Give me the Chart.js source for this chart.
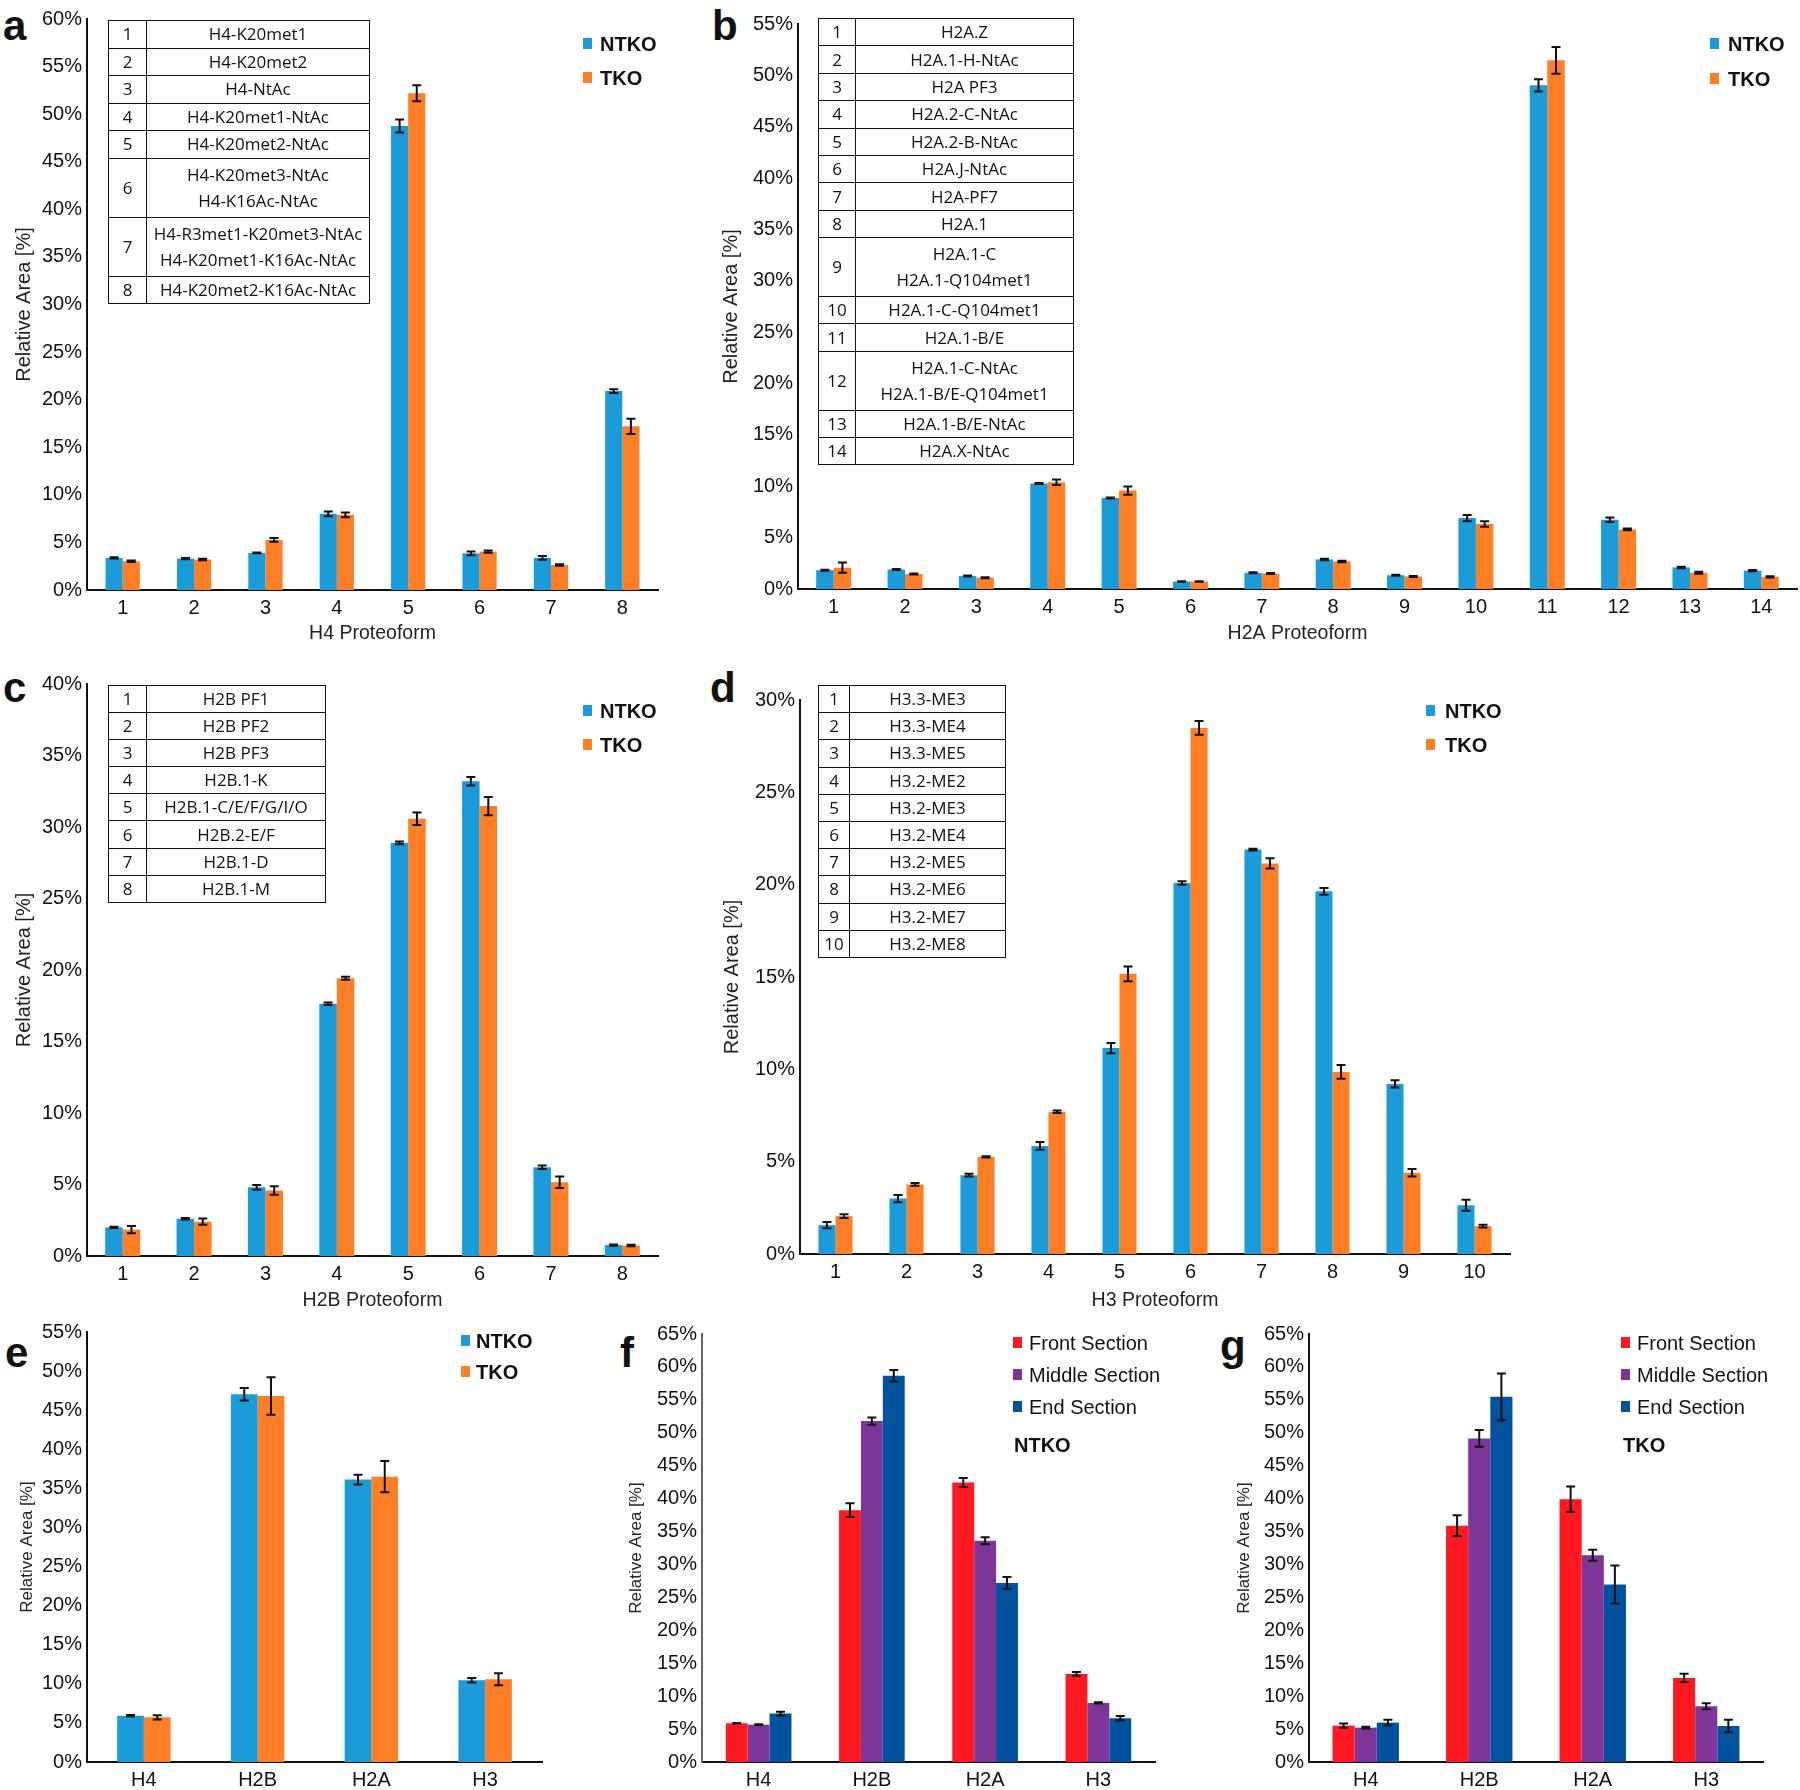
<!DOCTYPE html>
<html>
<head>
<meta charset="utf-8">
<script src="https://cdn.jsdelivr.net/npm/chart.js@4.4.1/dist/chart.umd.min.js"></script>
<style>
  body { margin: 0; width: 1800px; height: 1790px; background: #fff; position: relative; overflow: hidden; font-family: 'Liberation Sans', Arial, sans-serif; color: #111; }
  canvas { position: absolute; }
  .letter { position: absolute; font-weight: bold; font-size: 42px; line-height: 1; }
  .leg { position: absolute; font-size: 20px; line-height: 20px; white-space: nowrap; }
  .leg i { position: absolute; width: 9px; height: 11px; top: 4px; }
  .leg.b { font-weight: bold; }
  table.pf { position: absolute; border-collapse: collapse; font-family: 'Open Sans', sans-serif; font-size: 17px; color: #111; }
  table.pf td { border: 1.8px solid #111; padding: 0; text-align: center; line-height: 26px; white-space: nowrap; }
</style>
</head>
<body>
<!-- panel letters -->
<div class="letter" style="left:3px;top:5px">a</div>
<div class="letter" style="left:712px;top:5px">b</div>
<div class="letter" style="left:3px;top:667px">c</div>
<div class="letter" style="left:710px;top:667px">d</div>
<div class="letter" style="left:5px;top:1332px">e</div>
<div class="letter" style="left:620px;top:1332px">f</div>
<div class="letter" style="left:1220px;top:1325px">g</div>

<canvas id="chartA" width="690" height="650" style="left:0;top:0"></canvas>
<canvas id="chartB" width="1100" height="650" style="left:700px;top:0"></canvas>
<canvas id="chartC" width="690" height="670" style="left:0;top:650px"></canvas>
<canvas id="chartD" width="1100" height="670" style="left:700px;top:650px"></canvas>
<canvas id="chartE" width="600" height="480" style="left:0;top:1310px"></canvas>
<canvas id="chartF" width="600" height="480" style="left:600px;top:1310px"></canvas>
<canvas id="chartG" width="600" height="480" style="left:1200px;top:1310px"></canvas>

<!-- proteoform tables -->
<table class="pf" id="tabA" style="left:108px;top:20px;width:262px"></table>
<table class="pf" id="tabB" style="left:818px;top:18px;width:256px"></table>
<table class="pf" id="tabC" style="left:108px;top:685px;width:218px"></table>
<table class="pf" id="tabD" style="left:818px;top:685px;width:188px"></table>

<!-- legends -->
<div class="leg b" style="left:583px;top:34px"><i style="left:0;background:#1b9bd7"></i><span style="margin-left:17px">NTKO</span></div>
<div class="leg b" style="left:583px;top:68px"><i style="left:0;background:#ff7f27"></i><span style="margin-left:17px">TKO</span></div>
<div class="leg b" style="left:1710px;top:34px"><i style="left:0;background:#1b9bd7"></i><span style="margin-left:18px">NTKO</span></div>
<div class="leg b" style="left:1710px;top:69px"><i style="left:0;background:#ff7f27"></i><span style="margin-left:18px">TKO</span></div>
<div class="leg b" style="left:583px;top:701px"><i style="left:0;background:#1b9bd7"></i><span style="margin-left:17px">NTKO</span></div>
<div class="leg b" style="left:583px;top:735px"><i style="left:0;background:#ff7f27"></i><span style="margin-left:17px">TKO</span></div>
<div class="leg b" style="left:1426px;top:701px"><i style="left:0;background:#1b9bd7"></i><span style="margin-left:19px">NTKO</span></div>
<div class="leg b" style="left:1426px;top:735px"><i style="left:0;background:#ff7f27"></i><span style="margin-left:19px">TKO</span></div>
<div class="leg b" style="left:461px;top:1331px"><i style="left:0;background:#1b9bd7"></i><span style="margin-left:15px">NTKO</span></div>
<div class="leg b" style="left:461px;top:1362px"><i style="left:0;background:#ff7f27"></i><span style="margin-left:15px">TKO</span></div>
<div class="leg" style="left:1013px;top:1333px"><i style="left:0;background:#ff1a22"></i><span style="margin-left:16px">Front Section</span></div>
<div class="leg" style="left:1013px;top:1365px"><i style="left:0;background:#7d3597"></i><span style="margin-left:16px">Middle Section</span></div>
<div class="leg" style="left:1013px;top:1397px"><i style="left:0;background:#00539c"></i><span style="margin-left:16px">End Section</span></div>
<div class="leg b" style="left:1014px;top:1435px">NTKO</div>
<div class="leg" style="left:1621px;top:1333px"><i style="left:0;background:#ff1a22"></i><span style="margin-left:16px">Front Section</span></div>
<div class="leg" style="left:1621px;top:1365px"><i style="left:0;background:#7d3597"></i><span style="margin-left:16px">Middle Section</span></div>
<div class="leg" style="left:1621px;top:1397px"><i style="left:0;background:#00539c"></i><span style="margin-left:16px">End Section</span></div>
<div class="leg b" style="left:1623px;top:1435px">TKO</div>

<script>
// ---- data (relative area in %) ----
const h4Labels = ['1', '2', '3', '4', '5', '6', '7', '8'];
const h4Ntko = [3.37, 3.3, 3.9, 8.0, 48.75, 3.85, 3.37, 20.9];
const h4NtkoErr = [0.07, 0.07, 0.04, 0.25, 0.68, 0.2, 0.2, 0.2];
const h4Tko = [3.02, 3.2, 5.26, 7.9, 52.2, 4.03, 2.63, 17.2];
const h4TkoErr = [0.07, 0.08, 0.2, 0.25, 0.85, 0.12, 0.07, 0.8];
const h4Names = [['H4-K20met1'], ['H4-K20met2'], ['H4-NtAc'], ['H4-K20met1-NtAc'], ['H4-K20met2-NtAc'],
  ['H4-K20met3-NtAc', 'H4-K16Ac-NtAc'], ['H4-R3met1-K20met3-NtAc', 'H4-K20met1-K16Ac-NtAc'], ['H4-K20met2-K16Ac-NtAc']];

const h2aLabels = ['1', '2', '3', '4', '5', '6', '7', '8', '9', '10', '11', '12', '13', '14'];
const h2aNtko = [1.83, 1.9, 1.26, 10.27, 8.85, 0.73, 1.58, 2.88, 1.34, 6.9, 49.03, 6.74, 2.1, 1.79];
const h2aNtkoErr = [0.05, 0.05, 0.05, 0.05, 0.05, 0.03, 0.05, 0.07, 0.05, 0.3, 0.6, 0.22, 0.07, 0.05];
const h2aTko = [2.07, 1.46, 1.1, 10.39, 9.58, 0.73, 1.5, 2.68, 1.22, 6.33, 51.46, 5.8, 1.58, 1.18];
const h2aTkoErr = [0.5, 0.05, 0.05, 0.26, 0.4, 0.03, 0.05, 0.07, 0.05, 0.26, 1.3, 0.08, 0.1, 0.05];
const h2aNames = [['H2A.Z'], ['H2A.1-H-NtAc'], ['H2A PF3'], ['H2A.2-C-NtAc'], ['H2A.2-B-NtAc'], ['H2A.J-NtAc'],
  ['H2A-PF7'], ['H2A.1'], ['H2A.1-C', 'H2A.1-Q104met1'], ['H2A.1-C-Q104met1'], ['H2A.1-B/E'],
  ['H2A.1-C-NtAc', 'H2A.1-B/E-Q104met1'], ['H2A.1-B/E-NtAc'], ['H2A.X-NtAc']];

const h2bLabels = ['1', '2', '3', '4', '5', '6', '7', '8'];
const h2bNtko = [2.0, 2.6, 4.8, 17.64, 28.89, 33.2, 6.21, 0.76];
const h2bNtkoErr = [0.05, 0.05, 0.17, 0.08, 0.1, 0.3, 0.12, 0.04];
const h2bTko = [1.84, 2.4, 4.58, 19.42, 30.58, 31.46, 5.16, 0.73];
const h2bTkoErr = [0.25, 0.22, 0.3, 0.1, 0.44, 0.63, 0.4, 0.05];
const h2bNames = [['H2B PF1'], ['H2B PF2'], ['H2B PF3'], ['H2B.1-K'], ['H2B.1-C/E/F/G/I/O'], ['H2B.2-E/F'], ['H2B.1-D'], ['H2B.1-M']];

const h3Labels = ['1', '2', '3', '4', '5', '6', '7', '8', '9', '10'];
const h3Ntko = [1.56, 3.0, 4.27, 5.85, 11.15, 20.09, 21.9, 19.64, 9.21, 2.64];
const h3NtkoErr = [0.17, 0.2, 0.08, 0.21, 0.28, 0.1, 0.05, 0.18, 0.2, 0.3];
const h3Tko = [2.05, 3.77, 5.26, 7.7, 15.17, 28.49, 21.15, 9.86, 4.4, 1.51];
const h3TkoErr = [0.1, 0.07, 0.03, 0.07, 0.4, 0.37, 0.28, 0.37, 0.2, 0.07];
const h3Names = [['H3.3-ME3'], ['H3.3-ME4'], ['H3.3-ME5'], ['H3.2-ME2'], ['H3.2-ME3'], ['H3.2-ME4'], ['H3.2-ME5'], ['H3.2-ME6'], ['H3.2-ME7'], ['H3.2-ME8']];

const histLabels = ['H4', 'H2B', 'H2A', 'H3'];
const totNtko = [5.93, 47.04, 36.12, 10.45];
const totNtkoErr = [0.07, 0.8, 0.62, 0.28];
const totTko = [5.71, 46.82, 36.5, 10.58];
const totTkoErr = [0.28, 2.4, 2.0, 0.77];

const ntkoFront = [5.88, 38.25, 42.45, 13.37];
const ntkoFrontErr = [0.05, 1.04, 0.68, 0.28];
const ntkoMiddle = [5.67, 51.77, 33.59, 8.97];
const ntkoMiddleErr = [0.05, 0.56, 0.53, 0.1];
const ntkoEnd = [7.35, 58.66, 27.2, 6.64];
const ntkoEndErr = [0.3, 0.89, 0.89, 0.33];

const tkoFront = [5.52, 35.87, 39.92, 12.77];
const tkoFrontErr = [0.33, 1.6, 1.93, 0.63];
const tkoMiddle = [5.22, 49.14, 31.41, 8.46];
const tkoMiddleErr = [0.15, 1.27, 0.84, 0.46];
const tkoEnd = [5.98, 55.47, 26.95, 5.47];
const tkoEndErr = [0.43, 3.55, 2.89, 0.94];

const BLUE = '#1b9bd7', ORANGE = '#ff7f27';
const RED = '#ff1a22', PURPLE = '#7d3597', DARKBLUE = '#00539c';

// ---- tables ----
function fillTable(id, names, numW, rowH) {
  const t = document.getElementById(id);
  names.forEach((lines, i) => {
    const tr = document.createElement('tr');
    const h = lines.length > 1 ? rowH * 2 + 5 : rowH;
    tr.innerHTML = '<td style="width:' + numW + 'px;height:' + h + 'px">' + (i + 1) + '</td>' +
      '<td style="height:' + h + 'px">' + lines.join('<br>') + '</td>';
    t.appendChild(tr);
  });
}
fillTable('tabA', h4Names, 37, 26.5);
fillTable('tabB', h2aNames, 36, 26.4);
fillTable('tabC', h2bNames, 37, 26.1);
fillTable('tabD', h3Names, 30, 26.2);

// ---- error bars ----
const errorBars = {
  id: 'errorBars',
  afterDatasetsDraw(chart) {
    const ctx = chart.ctx;
    const y = chart.scales.y;
    ctx.save();
    ctx.strokeStyle = '#111';
    ctx.lineWidth = 2;
    chart.data.datasets.forEach((ds, i) => {
      chart.getDatasetMeta(i).data.forEach((bar, j) => {
        const v = ds.data[j], e = ds.errors[j];
        const top = y.getPixelForValue(v + e), bot = y.getPixelForValue(v - e);
        ctx.beginPath();
        ctx.moveTo(bar.x, top); ctx.lineTo(bar.x, bot);
        ctx.moveTo(bar.x - 4.5, top); ctx.lineTo(bar.x + 4.5, top);
        ctx.moveTo(bar.x - 4.5, bot); ctx.lineTo(bar.x + 4.5, bot);
        ctx.stroke();
      });
    });
    ctx.restore();
  }
};

Chart.defaults.font.family = "'Liberation Sans', Arial, sans-serif";
Chart.defaults.color = '#111';

function barChart(id, labels, sets, p) {
  return new Chart(document.getElementById(id), {
    type: 'bar',
    data: {
      labels: labels,
      datasets: sets.map(s => ({
        data: s[0], errors: s[1], backgroundColor: s[2],
        categoryPercentage: p.cat, barPercentage: 1
      }))
    },
    options: {
      responsive: false,
      animation: false,
      layout: { padding: { top: p.top, right: p.right, left: 0, bottom: 0 } },
      plugins: { legend: { display: false }, tooltip: { enabled: false } },
      scales: {
        x: {
          grid: { display: false, drawTicks: false },
          border: { display: true, color: '#111', width: 2 },
          ticks: { font: { size: p.tick }, padding: 6, color: '#111' },
          title: { display: !!p.xTitle, text: p.xTitle, font: { size: 19.5 }, color: '#222', padding: { bottom: p.xPad } },
          afterFit: s => { s.height = p.xH; }
        },
        y: {
          min: 0, max: p.max,
          grid: { display: false, drawTicks: false },
          border: { display: true, color: p.axis || '#111', width: 2 },
          ticks: { stepSize: 5, font: { size: p.tick }, padding: 5, color: '#111', callback: v => v + '%' },
          title: { display: true, text: 'Relative Area [%]', font: { size: p.yFont }, color: '#222', padding: { top: p.yPad } },
          afterFit: s => { s.width = p.yW; }
        }
      }
    },
    plugins: [errorBars]
  });
}

barChart('chartA', h4Labels, [[h4Ntko, h4NtkoErr, BLUE], [h4Tko, h4TkoErr, ORANGE]],
  { max: 60, cat: 0.48, top: 19, right: 32, yW: 87, xH: 60, tick: 20, xTitle: 'H4 Proteoform', xPad: 5, yFont: 20, yPad: 12.5 });
barChart('chartB', h2aLabels, [[h2aNtko, h2aNtkoErr, BLUE], [h2aTko, h2aTkoErr, ORANGE]],
  { max: 55, cat: 0.49, top: 24, right: 3, yW: 98, xH: 61, tick: 20, xTitle: 'H2A Proteoform', xPad: 5, yFont: 20, yPad: 19.5 });
barChart('chartC', h2bLabels, [[h2bNtko, h2bNtkoErr, BLUE], [h2bTko, h2bTkoErr, ORANGE]],
  { max: 40, cat: 0.49, top: 34, right: 32, yW: 87, xH: 64, tick: 20, xTitle: 'H2B Proteoform', xPad: 8, yFont: 20, yPad: 12.5 });
barChart('chartD', h3Labels, [[h3Ntko, h3NtkoErr, BLUE], [h3Tko, h3TkoErr, ORANGE]],
  { max: 30, cat: 0.48, top: 50, right: 290, yW: 100, xH: 66, tick: 20, xTitle: 'H3 Proteoform', xPad: 8, yFont: 20, yPad: 20.5 });
barChart('chartE', histLabels, [[totNtko, totNtkoErr, BLUE], [totTko, totTkoErr, ORANGE]],
  { max: 55, cat: 0.47, top: 22, right: 58, yW: 87, xH: 28, tick: 20, xTitle: '', xPad: 0, yFont: 17, yPad: 16.8 });
barChart('chartF', histLabels, [[ntkoFront, ntkoFrontErr, RED], [ntkoMiddle, ntkoMiddleErr, PURPLE], [ntkoEnd, ntkoEndErr, DARKBLUE]],
  { max: 65, cat: 0.58, top: 24, right: 45, yW: 102, xH: 28, tick: 20, xTitle: '', xPad: 0, yFont: 17, yPad: 25.8, axis: '#666' });
barChart('chartG', histLabels, [[tkoFront, tkoFrontErr, RED], [tkoMiddle, tkoMiddleErr, PURPLE], [tkoEnd, tkoEndErr, DARKBLUE]],
  { max: 65, cat: 0.585, top: 24, right: 37, yW: 109, xH: 28, tick: 20, xTitle: '', xPad: 0, yFont: 17, yPad: 33.8 });
</script>
</body>
</html>
